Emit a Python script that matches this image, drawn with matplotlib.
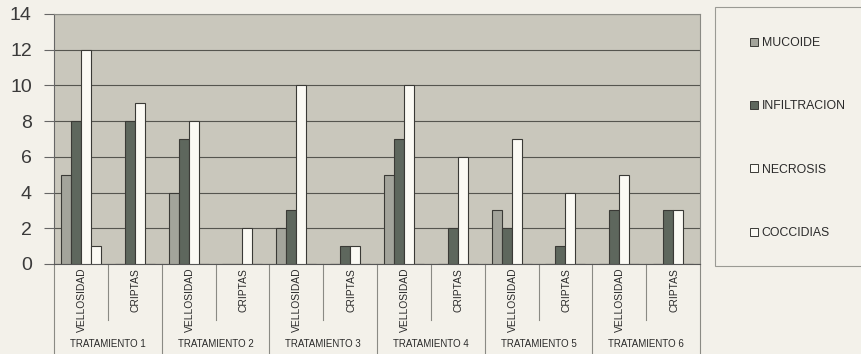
import numpy as np
import matplotlib.pyplot as plt
from matplotlib.patches import Rectangle, Patch
from matplotlib.transforms import blended_transform_factory

plt.rcParams['font.family'] = ['Liberation Sans', 'DejaVu Sans']

groups = ['TRATAMIENTO 1', 'TRATAMIENTO 2', 'TRATAMIENTO 3',
          'TRATAMIENTO 4', 'TRATAMIENTO 5', 'TRATAMIENTO 6']
subcats = ['VELLOSIDAD', 'CRIPTAS']
series = ['MUCOIDE', 'INFILTRACION', 'NECROSIS', 'COCCIDIAS']

mucoide = [5, 0, 4, 0, 2, 0, 5, 0, 3, 0, 0, 0]
infiltracion = [8, 8, 7, 0, 3, 1, 7, 2, 2, 1, 3, 3]
necrosis = [12, 9, 8, 2, 10, 1, 10, 6, 7, 4, 5, 3]
coccidias = [1, 0, 0, 0, 0, 0, 0, 0, 0, 0, 0, 0]

colors = ['#a3a49b', '#5e675d', '#fbfaf4', '#fbfaf4']
fig_bg = '#f3f1ea'
plot_bg = '#c9c7bc'

fig = plt.figure(figsize=(8.61, 3.54), dpi=100, facecolor=fig_bg)
ax = fig.add_axes([54 / 861, 1 - 264 / 354, 646 / 861, 250 / 354])
ax.set_facecolor(plot_bg)

n = len(groups) * len(subcats)
x = np.arange(n)
w = 0.186
data = [mucoide, infiltracion, necrosis, coccidias]
for k, vals in enumerate(data):
    ax.bar(x + (k - 1.5) * w, vals, w, color=colors[k], edgecolor='#3a3a36',
           linewidth=0.8, zorder=3)

ax.set_xlim(-0.5, n - 0.5)
ax.set_ylim(0, 14)
ax.set_yticks(range(0, 15, 2))
ax.yaxis.grid(True, color='#55554f', linewidth=0.8, zorder=0)
ax.tick_params(axis='y', labelsize=14, labelcolor='#3a3a3a', length=7,
               width=0.8, color='#666', pad=9)
ax.set_xticks([])
for side in ['top', 'right']:
    ax.spines[side].set_color('#8a8a84')
    ax.spines[side].set_linewidth(0.8)
ax.spines['left'].set_color('#666')
ax.spines['bottom'].set_color('#555')

# two level category axis
trans = blended_transform_factory(ax.transData, ax.transAxes)
for i in range(n + 1):
    bottom = -0.36 if i % 2 == 0 else -0.224
    ax.plot([i - 0.5, i - 0.5], [0, bottom], transform=trans, color='#8a8a84',
            linewidth=0.8, clip_on=False)
for i in range(n):
    ax.text(x[i] + 0.02, -0.016, subcats[i % 2], transform=trans, rotation=90,
            ha='center', va='top', fontsize=7.4, color='#2a2a2a')
for g, name in enumerate(groups):
    ax.text(2 * g + 0.5, -0.32, name, transform=trans, ha='center',
            va='center', fontsize=7, color='#2a2a2a')

# legend box
fig.patches.append(Rectangle((715 / 861, 1 - 266 / 354), 150 / 861, 259 / 354,
                             transform=fig.transFigure, facecolor=fig_bg,
                             edgecolor='#9a9a94', linewidth=0.8))
handles = [Patch(facecolor=colors[k], edgecolor='#3a3a36', linewidth=0.7)
           for k in range(4)]
fig.legend(handles, series, loc='upper left',
           bbox_to_anchor=(739 / 861, 1 - 26 / 354), frameon=False,
           fontsize=8.8, handlelength=0.65, handleheight=0.65,
           handletextpad=0.3, labelspacing=4.2, labelcolor='#2a2a2a')

fig.savefig('out.png', dpi=100, facecolor=fig_bg)
